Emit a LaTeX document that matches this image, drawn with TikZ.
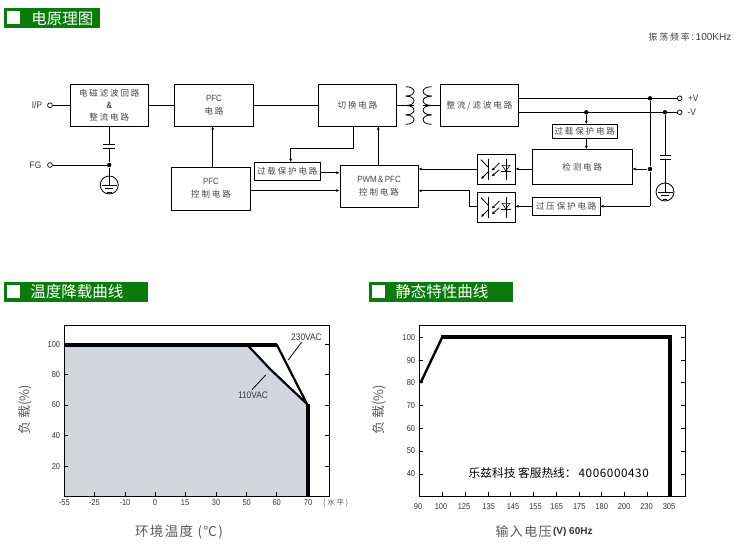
\documentclass[tikz,border=0pt]{standalone}
\usepackage{fontspec}
\setmainfont{Liberation Sans}
\newfontfamily\narrowf[FakeStretch=0.88]{Liberation Sans}
\newfontfamily\cjk{Noto Sans CJK SC}
\newfontfamily\cjks[LetterSpace=22]{Noto Sans CJK SC}
\newfontfamily\cjkw[LetterSpace=10]{Noto Sans CJK SC}
\usetikzlibrary{arrows.meta}
\definecolor{headgreen}{RGB}{10,122,12}
\definecolor{plotgray}{RGB}{209,215,221}
\definecolor{labgray}{RGB}{70,70,70}
\newcommand{\zh}[1]{{\cjks #1}}
\tikzset{
  block/.style={draw, line width=0.9pt, inner sep=0pt, align=center, text=labgray, font=\fontsize{9}{14}\narrowf},
  port/.style={draw, circle, line width=0.7pt, fill=white, inner sep=0pt, minimum size=4.8pt},
  jdot/.style={fill, circle, inner sep=0pt, minimum size=4.4pt},
  gndring/.style={draw, circle, line width=0.8pt, inner sep=0pt, minimum size=18pt},
  txt/.style={inner sep=0pt, text=black!80, font=\fontsize{9.5}{11}\narrowf},
  tick/.style={inner sep=0pt, text=black!80, font=\fontsize{8.5}{10}\narrowf},
  headtxt/.style={inner sep=0pt, text=white, anchor=west, font=\fontsize{15.5}{18}\cjk},
  axtitle/.style={inner sep=0pt, text=black!65, font=\fontsize{13}{15}\selectfont},
  gndbars/.pic={
    \draw (-7.5,0) -- (7.5,0);
    \draw (-4.2,3.4) -- (4.2,3.4);
    \draw (-2.4,7) -- (2.4,7);
  },
  optosym/.pic={
    \draw (-7.3,-10.4) -- (-7.3,10.6);
    \draw (-15,-9.3) -- (-8,-2);
    \draw [-{Latex[length=3pt,width=3pt]}] (-8,3) -- (-15,10);
    \draw [-{Latex[length=3pt,width=3pt]}] (3.3,-6) -- (-4.3,1.7);
    \draw [-{Latex[length=3pt,width=3pt]}] (3.3,0.7) -- (-4.3,7.3);
    \draw (10,-10.4) -- (10,10.6);
    \draw [line width=0.55pt] (6,-3.7) -- (14,-3.7) -- (10,2) -- cycle;
    \draw (5.3,2) -- (15,2);
  },
}
\begin{document}
\begin{tikzpicture}[x=1pt, y=-1pt, line width=0.8pt, >={Latex[length=3.2pt,width=3pt]}]
\useasboundingbox (0,0) rectangle (739,554);

% section headers
\fill [headgreen] (4,8) rectangle (100,28);
\fill [white] (7,11) rectangle (20,24);
\node [headtxt] (head1) at (31,19) {电原理图};
\fill [headgreen] (4,282) rectangle (148,302);
\fill [white] (7,285) rectangle (20,298);
\node [headtxt] (head2) at (30,292) {温度降载曲线};
\fill [headgreen] (369,282) rectangle (513.3,302);
\fill [white] (372.3,285) rectangle (385,298);
\node [headtxt] (head3) at (395,292) {静态特性曲线};

\node [inner sep=0pt, anchor=east, text=black!75, font=\fontsize{10}{12}\selectfont] (freq) at (731.7,37.3) {{\fontsize{8.8}{10}\cjks 振荡频率}\,:\,100KHz};

% blocks
\node [block, minimum width=78.5pt, minimum height=41.5pt] (emi) at (109.25,105.25) {{\fontsize{8.5}{14}\cjks 电磁滤波回路}\\[-2pt]\textbf{\&}\\[-2pt]{\fontsize{8.5}{14}\cjks 整流电路}};
\node [block, minimum width=79pt, minimum height=41.5pt] (pfc) at (214,105.25) {PFC\\[-1pt]{\fontsize{8.5}{14}\cjks 电路}};
\node [block, minimum width=78pt, minimum height=41.5pt] (switch) at (357.5,105.25) {{\fontsize{8.5}{14}\cjks 切换电路}};
\node [block, minimum width=78pt, minimum height=41.5pt] (rect) at (479.5,105.25) {{\fontsize{8.5}{14}\cjks 整流/滤波电路}};
\node [block, minimum width=79pt, minimum height=43pt] (pfcctl) at (211,188.5) {PFC\\[-1pt]{\fontsize{8.5}{14}\cjks 控制电路}};
\node [block, minimum width=65.5pt, minimum height=18pt] (olp1) at (287.25,171.5) {{\fontsize{8.5}{10}\cjks 过载保护电路}};
\node [block, minimum width=78pt, minimum height=42.5pt] (pwm) at (379,186.25) {PWM\,\&\,PFC\\[-1pt]{\fontsize{8.5}{14}\cjks 控制电路}};
\node [block, minimum width=38pt, minimum height=30pt] (opto1) at (496,169) {};
\node [block, minimum width=38pt, minimum height=30pt] (opto2) at (496,207) {};
\node [block, minimum width=99.5pt, minimum height=34.5pt] (detect) at (582.25,166.75) {{\fontsize{8.5}{14}\cjks 检测电路}};
\node [block, minimum width=64.5pt, minimum height=14pt] (olp2) at (584.75,131.5) {{\fontsize{8.5}{10}\cjks 过载保护电路}};
\node [block, minimum width=67.5pt, minimum height=18.2pt] (ovp) at (566.25,206.6) {{\fontsize{8.5}{10}\cjks 过压保护电路}};
\pic at (opto1) {optosym};
\pic at (opto2) {optosym};

% terminals and junctions
\node [port] (ip) at (50,105.25) {};
\node [port] (fg) at (50,165) {};
\node [port] (pv) at (679.7,98.3) {};
\node [port] (mv) at (679.7,112.3) {};
\node [txt] (iplab) at (37,105.25) {I/P};
\node [txt] (fglab) at (35.5,165.5) {FG};
\node [txt] (pvlab) at (693.3,98.3) {+V};
\node [txt] (mvlab) at (691.7,112.3) {-V};
\node [jdot] (j1) at (650,98.3) {};
\node [jdot] (j2) at (650,169) {};
\node [jdot] (j3) at (665,112.3) {};
\node [jdot] (j4) at (586.3,112.3) {};
\node [jdot] (j5) at (109.25,165) {};
\coordinate (j6) at (650,206.3);
\node [gndring] (gnd1) at (109.25,185) {};
\node [gndring] (gnd2) at (665,192) {};
\pic at (gnd1) {gndbars};
\pic at (gnd2) {gndbars};
\coordinate (cap1a) at (109.25,144);
\coordinate (cap1b) at (109.25,148.5);
\coordinate (cap2a) at (665,155);
\coordinate (cap2b) at (665,159.5);
\coordinate (coilL) at (414,105.25);
\coordinate (coilR) at (422.5,105.25);
\coordinate (tap1) at (353.7,148.7);
\coordinate (tap2) at (290.7,148.7);
\coordinate (fbk) at (212.7,167);
\coordinate (pwmup) at (378.3,165);
\coordinate (bend1) at (469,206.3);
\coordinate (bend2) at (469,190.7);

% transformer
\foreach \i in {0,1,2,3} {
  \draw (405.7,86.7+9.4*\i) .. controls (416.8,86.7+9.4*\i) and (416.8,96.1+9.4*\i) .. (405.7,96.1+9.4*\i);
  \draw (431.7,86.7+9.4*\i) .. controls (420.2,86.7+9.4*\i) and (420.2,96.1+9.4*\i) .. (431.7,96.1+9.4*\i);
}

\begin{scope}[line width=0.9pt]
\draw (ip) -- (emi);
\draw (fg) -- (j5);
\draw (emi) -- (pfc);
\draw (pfc) -- (switch);
\draw (switch) -- (coilL);
\draw (coilR) -- (rect);
\draw (emi.south) -- (cap1a);
\draw (cap1b) -- (j5) -- (gnd1.north);
\draw (gnd1.north) -- (gnd1.center);
\draw (cap1a) + (-6,0) -- +(6,0);
\draw (cap1b) + (-6,0) -- +(6,0);
\draw (rect.east |- pv) -- (pv);
\draw (rect.east |- mv) -- (mv);
\draw (j3) -- (cap2a);
\draw (cap2b) -- (gnd2.center);
\draw (cap2a) + (-5.5,0) -- +(5.5,0);
\draw (cap2b) + (-5.5,0) -- +(5.5,0);
\draw (j1) -- (j2) -- (j6);
\end{scope}

\begin{scope}[line width=0.9pt,->]
\draw (fbk) -- (fbk |- pfc.south);
\draw (pwmup) -- (pwmup |- switch.south);
\draw (tap1 |- switch.south) -- (tap1) -- (tap2) -- (tap2 |- olp1.north);
\draw (olp1.east |- 0,172.7) -- (pwm.west |- 0,172.7);
\draw (pfcctl.east |- 0,190.5) -- (pwm.west |- 0,190.5);
\draw (opto1.west) -- (pwm.east |- opto1.west);
\draw (opto2.west |- bend1) -- (bend1) -- (bend2) -- (pwm.east |- bend2);
\draw (detect.west |- opto1.east) -- (opto1.east);
\draw (ovp.west |- j6) -- (opto2.east |- j6);
\draw (j2) -- (detect.east |- j2);
\draw (j6) -- (ovp.east |- j6);
\draw (j4) -- (j4 |- olp2.north);
\draw (j4 |- olp2.south) -- (j4 |- detect.north);
\end{scope}

% derating plot
\fill [plotgray] (64.3,345) -- (247,345) -- (270,369) -- (308,405) -- (308,496.3) -- (64.3,496.3) -- cycle;
\draw [line width=1pt] (64.3,325.7) rectangle (329.3,496.3);
\foreach \y/\lab in {344.7/100,374.3/80,405/60,435.3/40,466.3/20} {
  \draw (64.3,\y) -- (68.3,\y);
  \draw (329.3,\y) -- (325.3,\y);
  \node [tick, anchor=east] (ya\lab) at (60.5,\y) {\lab};
}
\foreach \x/\lab in {64.3/-55,94.3/-25,125/-10,155/0,185/15,216/30,246.7/50,276.7/60,308/70} {
  \draw (\x,496.3) -- (\x,492.3);
  \node [tick] (xa\lab) at (\x,502.7) {\lab};
}
\node [tick, text=black!65, font=\fontsize{7.5}{9}\cjks] (xunit) at (335.7,502.7) {(水平)};
\draw [line width=2.2pt] (247,344.5) -- (270,369) -- (307,404);
\draw [line width=2.2pt] (276.7,344.5) -- (307.5,405);
\draw [line width=3.6pt] (64.3,345) -- (276.7,345);
\draw [line width=4pt] (308,403.5) -- (308,496.3);
\node [txt] (lab230) at (306.5,337) {230VAC};
\node [txt] (lab110) at (253,395) {110VAC};
\draw (lab230.south) ++(-5,1.5) -- (288.3,360);
\draw (lab110.north) ++(-1,-1.5) -- (265.7,375);
\node [axtitle, rotate=90, font=\fontsize{13}{15}\cjk] (ytitle1) at (25.7,410) {负 载(\%)};
\node [axtitle, font=\fontsize{13.5}{15}\cjkw] (xtitle1) at (179,531.7) {环境温度 (℃)};

% static plot
\draw [line width=1pt] (419.3,325.7) rectangle (685.3,496.3);
\foreach \y/\lab in {337.3/100,360.3/90,382.7/80,405.3/70,428.3/60,451/50,474/40} {
  \draw (419.3,\y) -- (423.3,\y);
  \draw (685.3,\y) -- (681.3,\y);
  \node [tick, anchor=east] (yb\lab) at (415.5,\y) {\lab};
}
\foreach \x/\lab in {418/90,441/100,464/125,488.7/135,513/145,535.5/155,556.7/165,579.3/175,601.7/180,624/200,646.5/230,669/305} {
  \node [tick] (xb\lab) at (\x,506.7) {\lab};
}
\foreach \x in {442.3,465.7,488.7,510.7,533.7,556.7,579.3,601.7,624.7,647.7} {
  \draw (\x,496.3) -- (\x,492.3);
}
\draw [line width=2.4pt] (420.5,383) -- (442.3,337);
\draw [line width=3.6pt] (441,337) -- (671.8,337);
\draw [line width=4pt] (670,335.2) -- (670,496.3);
\node [inner sep=0pt, anchor=west, font=\fontsize{11.7}{14}\cjk] (hotline) at (468.3,472.7) {乐兹科技 客服热线：\hspace{2pt}{\addfontfeature{LetterSpace=5}4006000430}};
\node [axtitle, rotate=90, font=\fontsize{13}{15}\cjk] (ytitle2) at (379,410) {负 载(\%)};
\node [axtitle, anchor=east, font=\fontsize{13}{15}\cjkw] (xtitle2) at (552,531.7) {输入电压};
\node [inner sep=0pt, anchor=west, text=black!80, font=\fontsize{10}{12}\selectfont\bfseries] (xunit2) at (552.7,532) {(V) 60Hz};

\end{tikzpicture}
\end{document}
